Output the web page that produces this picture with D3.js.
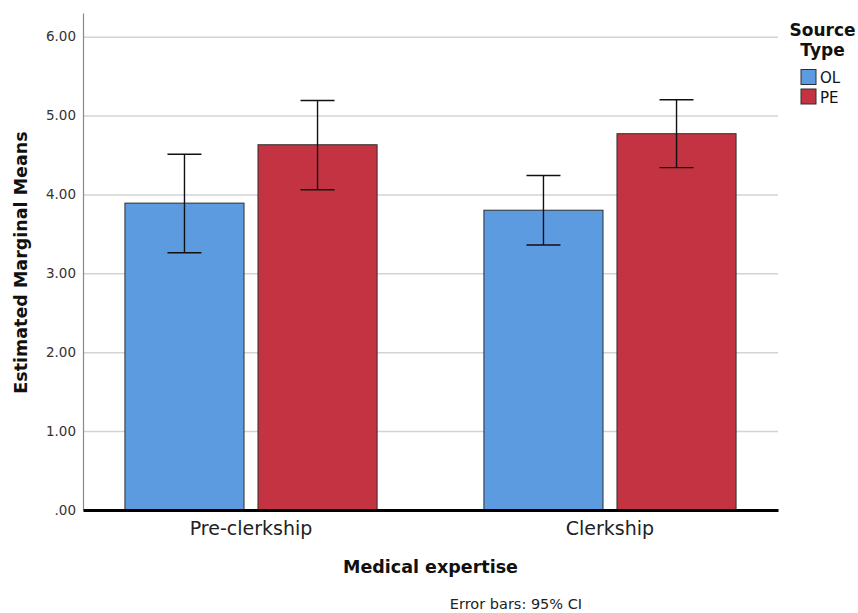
<!DOCTYPE html>
<html>
<head>
<meta charset="utf-8">
<script src="https://cdn.jsdelivr.net/npm/d3@7"></script>
<style>
  html, body { margin: 0; padding: 0; background: #fff; }
  svg { display: block; font-family: "DejaVu Sans", sans-serif; }
</style>
</head>
<body>
<svg id="chart" width="858" height="613"></svg>
<script>
// ---- data ----
const categories = ["Pre-clerkship", "Clerkship"];
const seriesNames = ["OL", "PE"];
const olMeans = [3.89, 3.80];
const peMeans = [4.63, 4.77];
const olLower = [3.26, 3.36];
const olUpper = [4.51, 4.24];
const peLower = [4.06, 4.34];
const peUpper = [5.19, 5.20];
const yTicks = [0, 1, 2, 3, 4, 5, 6];
const yTickLabels = [".00", "1.00", "2.00", "3.00", "4.00", "5.00", "6.00"];
const seriesColors = ["#5d9be1", "#c43342"];

const rows = categories.map((c, i) => ({
  cat: c,
  vals: [
    { s: seriesNames[0], mean: olMeans[i], lo: olLower[i], hi: olUpper[i] },
    { s: seriesNames[1], mean: peMeans[i], lo: peLower[i], hi: peUpper[i] }
  ]
}));

const svg = d3.select("#chart");
const mLeft = 83, mRight = 778, mTop = 13, mBottom = 510;

const y = d3.scaleLinear().domain([0, 6.3]).range([mBottom, mTop]);
const x0 = d3.scaleBand().domain(categories).range([mLeft, mRight])
  .paddingInner(0.2976).paddingOuter(0.1168);
const x1 = d3.scaleBand().domain(seriesNames).range([0, x0.bandwidth()])
  .paddingInner(0.105).paddingOuter(0);
const color = d3.scaleOrdinal().domain(seriesNames).range(seriesColors);

// gridlines
const grid = svg.append("g").attr("transform", `translate(${mLeft},0)`)
  .call(d3.axisLeft(y).tickValues(yTicks.filter(d => d > 0)).tickSize(-(mRight - mLeft)).tickFormat(""));
grid.select(".domain").remove();
grid.selectAll("line").attr("stroke", "#d3d3d3").attr("stroke-width", 1.5);

// y axis
const yAxis = svg.append("g").attr("transform", `translate(${mLeft},0)`)
  .call(d3.axisLeft(y).tickValues(yTicks).tickSize(0).tickSizeOuter(0).tickPadding(7)
    .tickFormat((d, i) => yTickLabels[i]));
yAxis.select(".domain").attr("stroke", "#8a8a8a").attr("stroke-width", 1.2);
yAxis.selectAll("text").attr("font-size", 13.5).attr("fill", "#333")
  .attr("font-family", "DejaVu Sans, sans-serif");

// bars
const groups = svg.append("g").selectAll("g").data(rows).join("g")
  .attr("transform", d => `translate(${x0(d.cat)},0)`);
groups.selectAll("rect").data(d => d.vals).join("rect")
  .attr("x", d => x1(d.s))
  .attr("width", x1.bandwidth())
  .attr("y", d => y(d.mean))
  .attr("height", d => y(0) - y(d.mean))
  .attr("fill", d => color(d.s))
  .attr("stroke", "#2e2e2e")
  .attr("stroke-width", 1);

// error bars
const capHalf = 17;
const eb = groups.selectAll("g.err").data(d => d.vals).join("g").attr("class", "err")
  .attr("stroke", "#111").attr("stroke-width", 1.4);
eb.append("line")
  .attr("x1", d => x1(d.s) + x1.bandwidth() / 2).attr("x2", d => x1(d.s) + x1.bandwidth() / 2)
  .attr("y1", d => y(d.hi)).attr("y2", d => y(d.lo));
eb.append("line")
  .attr("x1", d => x1(d.s) + x1.bandwidth() / 2 - capHalf).attr("x2", d => x1(d.s) + x1.bandwidth() / 2 + capHalf)
  .attr("y1", d => y(d.hi)).attr("y2", d => y(d.hi));
eb.append("line")
  .attr("x1", d => x1(d.s) + x1.bandwidth() / 2 - capHalf).attr("x2", d => x1(d.s) + x1.bandwidth() / 2 + capHalf)
  .attr("y1", d => y(d.lo)).attr("y2", d => y(d.lo));

// x axis
const xAxis = svg.append("g").attr("transform", `translate(0,${mBottom})`)
  .call(d3.axisBottom(x0).tickSize(0).tickSizeOuter(0).tickPadding(11.5));
xAxis.select(".domain").attr("stroke", "#000").attr("stroke-width", 3);
xAxis.selectAll("text").attr("font-size", 19).attr("fill", "#222")
  .attr("font-family", "DejaVu Sans, sans-serif");

// axis titles
svg.append("text").attr("x", (mLeft + mRight) / 2).attr("y", 573)
  .attr("text-anchor", "middle").attr("font-size", 17.5).attr("font-weight", "bold").attr("fill", "#111")
  .text("Medical expertise");
svg.append("text").attr("transform", `translate(27,${(mTop + mBottom) / 2 + 1}) rotate(-90)`)
  .attr("text-anchor", "middle").attr("font-size", 17.5).attr("font-weight", "bold").attr("fill", "#111")
  .text("Estimated Marginal Means");
svg.append("text").attr("x", 516).attr("y", 609)
  .attr("text-anchor", "middle").attr("font-size", 14.5).attr("fill", "#222")
  .text("Error bars: 95% CI");

// legend
const lg = svg.append("g");
lg.append("text").attr("x", 822.5).attr("y", 36).attr("text-anchor", "middle")
  .attr("font-size", 17).attr("font-weight", "bold").attr("fill", "#111").text("Source");
lg.append("text").attr("x", 822.5).attr("y", 56).attr("text-anchor", "middle")
  .attr("font-size", 17).attr("font-weight", "bold").attr("fill", "#111").text("Type");
const items = lg.selectAll("g.item").data(seriesNames).join("g").attr("class", "item")
  .attr("transform", (d, i) => `translate(801,${69.5 + i * 19.5})`);
items.append("rect").attr("width", 15).attr("height", 15)
  .attr("fill", d => color(d)).attr("stroke", "#2e2e2e").attr("stroke-width", 1);
items.append("text").attr("x", 19).attr("y", 13.5).attr("font-size", 15).attr("fill", "#111")
  .text(d => d);
</script>
</body>
</html>
